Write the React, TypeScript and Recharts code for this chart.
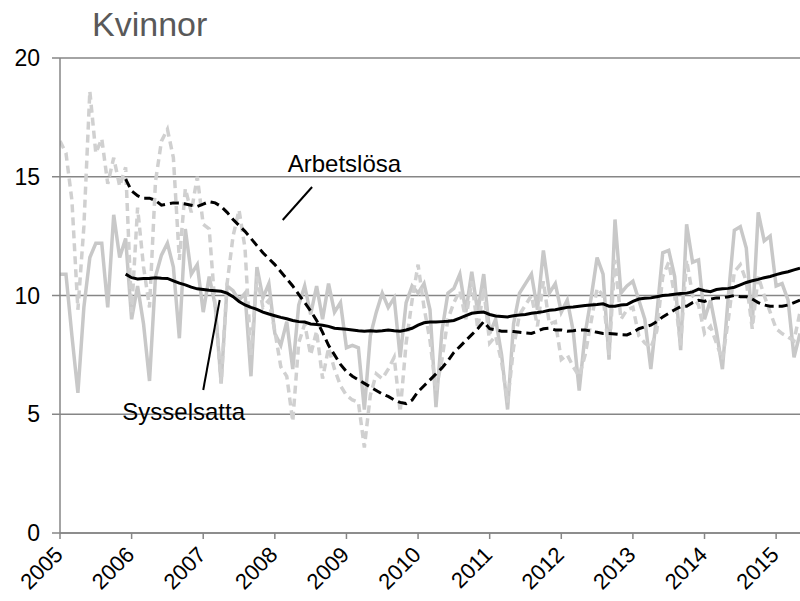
import React from 'react';
import { LineChart, Line, XAxis, YAxis, CartesianGrid, ReferenceLine, ReferenceDot } from 'recharts';

// monthly values, Jan 2005 .. May 2015
const startYear = 2005;
const yearTicks = [2005, 2006, 2007, 2008, 2009, 2010, 2011, 2012, 2013, 2014, 2015];
const valueTicks = [0, 5, 10, 15, 20];

const sysselsattaMonthly = [
    10.9, 10.9, 8.3, 5.9, 9.5, 11.6, 12.2, 12.2, 9.5, 13.4, 11.6, 12.4,
    9.0, 10.4, 8.8, 6.4, 10.8, 11.7, 12.2, 11.2, 8.2, 12.8, 10.9, 11.3,
    9.3, 10.8, 9.6, 6.3, 10.4, 10.2, 9.8, 10.1, 6.6, 11.2, 9.9, 10.5,
    8.4, 7.9, 8.9, 6.9, 9.6, 10.4, 9.2, 10.4, 9.0, 10.5, 9.3, 9.7,
    7.8, 7.9, 7.8, 5.2, 8.3, 9.3, 10.1, 9.5, 9.9, 7.4, 9.7, 10.4,
    10.1, 10.5, 9.4, 5.3, 8.5, 10.1, 10.3, 10.9, 9.3, 11.0, 9.3, 10.9,
    8.4, 9.0, 7.5, 5.2, 8.8, 10.1, 10.5, 10.9, 9.4, 11.9, 10.1, 10.5,
    9.3, 9.8, 8.5, 6.0, 8.4, 9.9, 11.6, 10.9, 7.3, 13.2, 10.1, 10.4,
    10.6, 9.8, 9.0, 6.9, 9.2, 11.8, 11.9, 10.8, 7.7, 13.0, 11.4, 11.5,
    9.0, 9.8, 8.5, 6.9, 10.0, 12.75, 12.9, 12.0, 8.8, 13.5, 12.3, 12.5,
    10.4, 10.5, 9.8, 7.4, 8.4,
];

const arbetslosaMonthly = [
    16.5, 16.0, 14.0, 9.4, 12.9, 18.6, 16.0, 16.6, 14.7, 15.8, 14.6, 15.4,
    9.3, 13.7, 11.2, 9.5, 14.8, 16.5, 17.0, 15.8, 11.5, 14.5, 13.5, 15.0,
    13.0, 12.8, 9.5, 6.3, 10.5, 12.5, 13.6, 12.0, 7.5, 10.8, 9.5, 9.8,
    8.5, 7.0, 6.6, 4.7, 8.0, 8.8, 7.5, 8.5, 6.5, 7.8, 6.9, 6.2,
    5.8, 5.6, 5.5, 3.6, 5.8, 6.7, 6.5, 6.9, 7.4, 5.1, 8.0, 9.8,
    11.3, 9.5, 8.1, 6.0, 7.3, 9.0, 9.7, 10.2, 9.0, 10.6, 8.6, 10.3,
    8.0, 8.3, 7.2, 5.5, 7.8, 9.2, 9.6, 10.0, 8.7, 10.6, 8.8, 8.9,
    7.3, 7.5, 7.0, 6.6, 7.5, 8.9, 10.3, 10.0, 7.5, 11.5, 9.0, 9.4,
    9.5, 8.3, 8.0, 7.8, 8.5, 10.8, 11.4, 10.0, 7.9, 11.5, 10.0, 9.6,
    8.4, 8.7, 8.0, 7.3, 9.0, 11.0, 11.3, 10.6, 8.6, 10.8, 10.0, 9.3,
    8.6, 8.4, 8.25, 8.1, 9.3,
];

// trends start Dec 2005 (month index 11)
const trendStart = 11;

const sysselsattaTrend = [
    10.9,
    10.75, 10.7, 10.72, 10.72, 10.75, 10.73, 10.72, 10.62, 10.52, 10.45, 10.35, 10.28,
    10.25, 10.22, 10.2, 10.18, 10.1, 9.95, 9.75, 9.6, 9.5, 9.42, 9.3, 9.22,
    9.15, 9.08, 9.02, 8.95, 8.9, 8.88, 8.8, 8.78, 8.75, 8.7, 8.62, 8.6,
    8.58, 8.55, 8.52, 8.5, 8.52, 8.5, 8.52, 8.55, 8.52, 8.5, 8.55, 8.62,
    8.75, 8.85, 8.88, 8.88, 8.9, 8.92, 8.95, 9.05, 9.15, 9.25, 9.28, 9.3,
    9.2, 9.14, 9.12, 9.1, 9.15, 9.18, 9.2, 9.25, 9.28, 9.32, 9.38, 9.4,
    9.45, 9.5, 9.52, 9.55, 9.58, 9.6, 9.62, 9.65, 9.55, 9.55, 9.6, 9.62,
    9.75, 9.85, 9.88, 9.9, 9.95, 10.0, 10.02, 10.05, 10.08, 10.1, 10.15, 10.27,
    10.2, 10.16, 10.25, 10.28, 10.3, 10.35, 10.45, 10.55, 10.62, 10.68, 10.75, 10.8,
    10.88, 10.95, 11.0, 11.08, 11.15,
];

const arbetslosaTrend = [
    14.9,
    14.4, 14.2, 14.1, 14.1, 14.0, 13.8, 13.85, 13.9, 13.9, 13.85, 13.8, 13.75,
    13.85, 13.95, 13.9, 13.75, 13.5, 13.2, 12.95, 12.7, 12.4, 12.1, 11.8, 11.55,
    11.3, 11.0, 10.7, 10.4, 10.05, 9.7, 9.35, 8.95, 8.45, 7.9, 7.5, 7.1,
    6.8, 6.6, 6.45, 6.3, 6.15, 6.0, 5.85, 5.75, 5.6, 5.5, 5.45, 5.6,
    5.95, 6.2, 6.45, 6.7, 6.95, 7.25, 7.6, 7.85, 8.1, 8.35, 8.6, 8.9,
    8.6, 8.55, 8.5, 8.5, 8.48, 8.45, 8.42, 8.4, 8.5, 8.6, 8.62, 8.55,
    8.55, 8.5, 8.52, 8.55, 8.55, 8.5, 8.45, 8.4, 8.4, 8.38, 8.35, 8.34,
    8.45, 8.6, 8.68, 8.75, 8.9, 9.1, 9.25, 9.4, 9.53, 9.55, 9.7, 9.8,
    9.75, 9.85, 9.9, 9.9, 9.95, 10.0, 9.95, 9.95, 9.85, 9.7, 9.6, 9.55,
    9.55, 9.55, 9.6, 9.7, 9.8,
];

const lastMonth = sysselsattaMonthly.length - 1;

const chartData = sysselsattaMonthly.map((v, i) => ({
    t: startYear + i / 12,
    ss: v,
    al: arbetslosaMonthly[i],
    ssTrend: i >= trendStart ? sysselsattaTrend[i - trendStart] : null,
    alTrend: i >= trendStart ? arbetslosaTrend[i - trendStart] : null,
}));

const font = '"Liberation Sans", Arial, sans-serif';
const axisGrey = '#868686';

const ValueTick = (props: any) => {
    const { x, y, payload } = props;
    return (
        <text x={x} y={y} textAnchor="end" dy={8} fontSize={23} fontFamily={font} fill="#000">
            {payload.value}
        </text>
    );
};

const Note = (text: string) => (props: any) => (
    <text x={props.cx} y={props.cy} fontSize={24} fontFamily={font} fill="#000">
        {text}
    </text>
);

export default function App() {
    return (
        <div style={{ position: 'absolute', left: 0, top: 0, width: 800, height: 601, background: '#fff' }}>
            <div style={{ position: 'absolute', left: 92, top: 5, fontFamily: font, fontSize: 34, color: '#595959', lineHeight: 'normal' }}>
                Kvinnor
            </div>
            <LineChart width={800} height={601} data={chartData} margin={{ top: 58, right: 0, bottom: 0, left: 0 }}>
                <CartesianGrid vertical={false} stroke={axisGrey} strokeWidth={1.5} />
                <XAxis
                    dataKey="t"
                    type="number"
                    domain={[startYear, startYear + lastMonth / 12]}
                    ticks={yearTicks}
                    allowDataOverflow
                    height={68}
                    stroke={axisGrey}
                    strokeWidth={1.5}
                    tickSize={6}
                    tickMargin={6}
                    tick={{ angle: -45, textAnchor: 'end', dx: -7, fontSize: 22, fontFamily: font, fill: '#000' }}
                    interval={0}
                />
                <YAxis
                    domain={[0, 20]}
                    ticks={valueTicks}
                    width={60}
                    stroke={axisGrey}
                    strokeWidth={1.5}
                    tickSize={8}
                    tickMargin={12}
                    tick={ValueTick}
                    interval={0}
                />
                <Line dataKey="ss" stroke="#c8c8c8" strokeWidth={3.5} dot={false} isAnimationActive={false} />
                <Line dataKey="al" stroke="#d0d0d0" strokeWidth={3.5} strokeDasharray="8 5" dot={false} isAnimationActive={false} />
                <Line dataKey="ssTrend" stroke="#000" strokeWidth={3} dot={false} isAnimationActive={false} />
                <Line dataKey="alTrend" stroke="#000" strokeWidth={3} strokeDasharray="9 5" dot={false} isAnimationActive={false} />
                <ReferenceLine segment={[{ x: 2008.11, y: 13.18 }, { x: 2008.52, y: 14.57 }]} stroke="#000" strokeWidth={2} />
                <ReferenceLine segment={[{ x: 2007.0, y: 6.02 }, { x: 2007.23, y: 9.81 }]} stroke="#000" strokeWidth={2} />
                <ReferenceDot x={2008.18} y={15.2} r={0} shape={Note('Arbetslösa')} />
                <ReferenceDot x={2005.87} y={4.76} r={0} shape={Note('Sysselsatta')} />
            </LineChart>
        </div>
    );
}
